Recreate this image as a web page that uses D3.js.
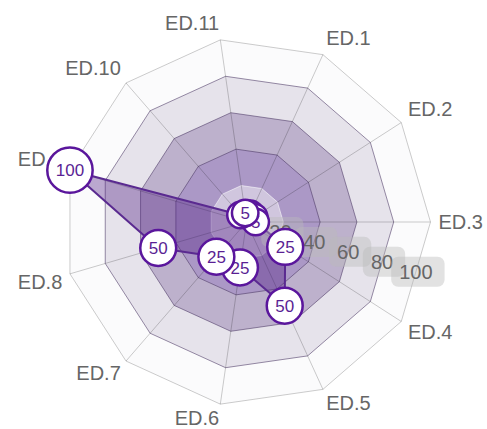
<!DOCTYPE html>
<html>
<head>
<meta charset="utf-8">
<script src="https://cdn.jsdelivr.net/npm/d3@7"></script>
<style>
  body { margin: 0; background: #fff; }
  svg { display: block; font-family: "Liberation Sans", Arial, sans-serif; }
</style>
</head>
<body>
<svg id="radar"></svg>
<script>
// Chart data
const axisLabels = ["ED.1", "ED.2", "ED.3", "ED.4", "ED.5", "ED.6", "ED.7", "ED.8", "ED.9", "ED.10", "ED.11"];
const seriesValues = [5, 5, 5, 25, 50, 25, 25, 50, 100, 5, 5];
const tickValues = [20, 40, 60, 80, 100];

// Band colours from the centre outwards
const bandColors = ["#d0c6de", "#ab98c6", "#bdb1cc", "#e6e3eb", "#fbfbfc"];
const ringStrokes = ["rgba(255,255,255,0.55)", "rgba(70,50,95,0.55)", "rgba(70,50,95,0.55)", "rgba(70,50,95,0.55)", "rgba(0,0,0,0.2)"];

const width = 487, height = 429;
const cx = 246.5, cy = 222, R = 184;

const svg = d3.select("#radar")
    .attr("width", width)
    .attr("height", height);

const g = svg.append("g")
    .attr("transform", "translate(" + cx + "," + cy + ")");

const r = d3.scaleLinear().domain([0, 100]).range([0, R]);
const n = axisLabels.length;
const step = 2 * Math.PI / n;

// screen angle (0 = right, clockwise); ED.3 sits on the horizontal
const angle = i => (i - 2) * step;

const radial = d3.lineRadial()
    .angle((d, i) => angle(i) + Math.PI / 2)
    .radius(d => r(d))
    .curve(d3.curveLinearClosed);

// Grid bands, outermost first
tickValues.slice().reverse().forEach(t => {
    const k = tickValues.indexOf(t);
    g.append("path")
        .attr("d", radial(axisLabels.map(() => t)))
        .attr("fill", bandColors[k])
        .attr("stroke", ringStrokes[k])
        .attr("stroke-width", 1);
});

// Spokes
g.selectAll(".spoke")
    .data(axisLabels)
    .enter().append("line")
    .attr("class", "spoke")
    .attr("x1", 0).attr("y1", 0)
    .attr("x2", (d, i) => r(100) * Math.cos(angle(i)))
    .attr("y2", (d, i) => r(100) * Math.sin(angle(i)))
    .attr("stroke", "rgba(0,0,0,0.2)")
    .attr("stroke-width", 1);

// Axis labels
g.selectAll(".axis-label")
    .data(axisLabels)
    .enter().append("text")
    .attr("class", "axis-label")
    .each(function(d, i) {
        const a = angle(i);
        const pr = r(100) + 8;
        const px = pr * Math.cos(a), py = pr * Math.sin(a);
        let deg = (a * 180 / Math.PI + 90 + 360) % 360;
        deg = Math.round(deg * 100) / 100;
        let anchor = "middle";
        if (deg > 0 && deg < 180) anchor = "start";
        else if (deg > 180) anchor = "end";
        let y;
        if (deg === 90 || deg === 270) y = py + 7;
        else if (deg < 90 || deg > 270) y = py - 2;
        else y = py + 13;
        d3.select(this)
            .attr("x", px)
            .attr("y", y)
            .attr("text-anchor", anchor);
    })
    .style("font-size", "20px")
    .style("fill", "#666")
    .text(d => d);

// Series polygon
g.append("path")
    .attr("d", radial(seriesValues))
    .attr("fill", "rgba(85,35,135,0.38)")
    .attr("stroke", "#5a2a90")
    .attr("stroke-width", 2)
    .attr("stroke-linejoin", "round");

// Tick labels on the bisector between ED.3 and ED.4
const tickAngle = step / 2;
const tickG = g.selectAll(".tick-label")
    .data(tickValues)
    .enter().append("g")
    .attr("class", "tick-label")
    .attr("transform", d => {
        const dist = r(d) * Math.cos(step / 2);
        return "translate(" + (dist * Math.cos(tickAngle)) + "," + (dist * Math.sin(tickAngle)) + ")";
    });

tickG.append("text")
    .attr("text-anchor", "middle")
    .attr("y", 7)
    .style("font-size", "20px")
    .style("fill", "#666")
    .text(d => d);

tickG.each(function() {
    const t = d3.select(this).select("text");
    const bb = t.node().getBBox();
    d3.select(this).insert("rect", "text")
        .attr("x", bb.x - 8)
        .attr("y", -15)
        .attr("width", bb.width + 20)
        .attr("height", 30)
        .attr("rx", 7)
        .attr("fill", "rgba(185,185,185,0.42)");
});

// Value labels in circles
const pts = g.selectAll(".value-label")
    .data(seriesValues)
    .enter().append("g")
    .attr("class", "value-label")
    .attr("transform", (d, i) => "translate(" + (r(d) * Math.cos(angle(i))) + "," + (r(d) * Math.sin(angle(i))) + ")");

pts.append("circle")
    .attr("fill", "#fff")
    .attr("stroke", "#5a169c")
    .attr("stroke-width", 2.5);

pts.append("text")
    .attr("text-anchor", "middle")
    .attr("y", 6)
    .style("font-size", "17px")
    .style("fill", "#5a1f94")
    .text(d => d);

pts.each(function() {
    const w = d3.select(this).select("text").node().getComputedTextLength();
    d3.select(this).select("circle").attr("r", w / 2 + 8.5);
});
</script>
</body>
</html>
